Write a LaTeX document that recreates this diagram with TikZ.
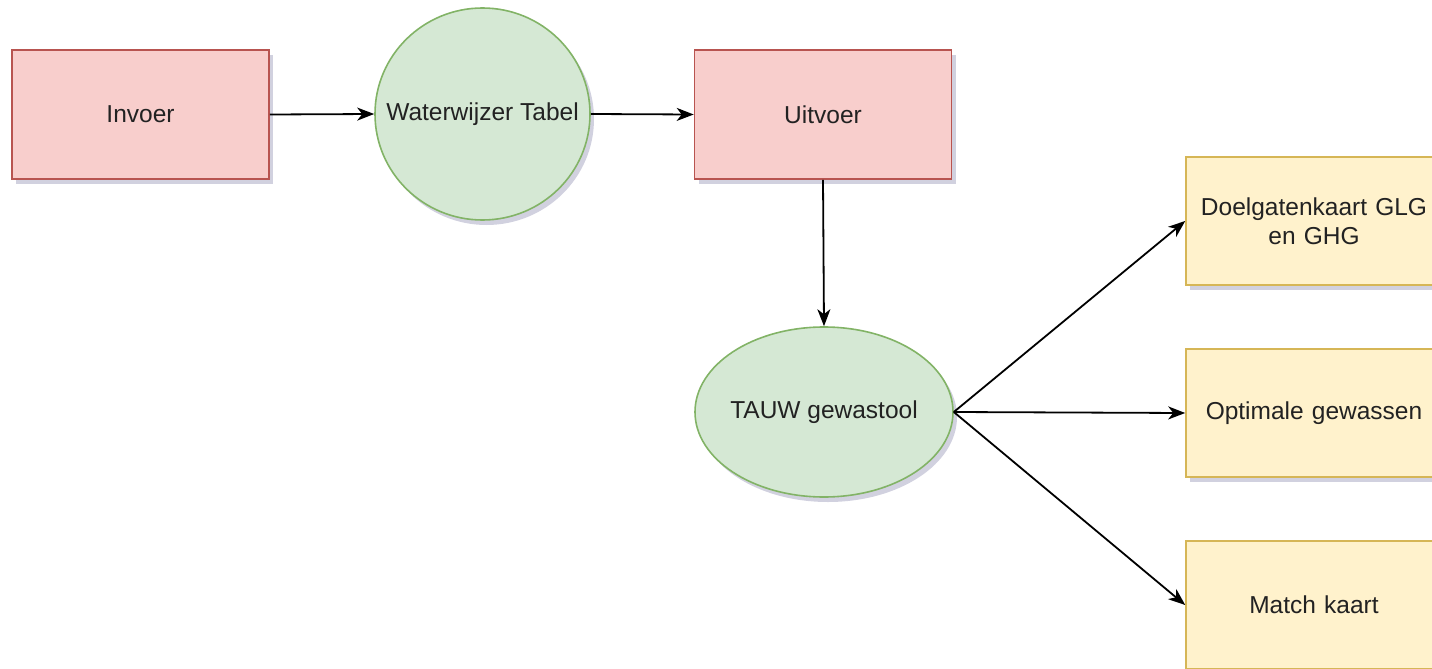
\documentclass[tikz,border=0pt]{standalone}
\usepackage{fontspec}
\setmainfont{Liberation Sans}
\usetikzlibrary{arrows.meta,shadows,shapes.geometric}
\definecolor{redfill}{HTML}{F8CECC}
\definecolor{redline}{HTML}{B85450}
\definecolor{greenfill}{HTML}{D5E8D4}
\definecolor{greenline}{HTML}{82B366}
\definecolor{yelfill}{HTML}{FFF2CC}
\definecolor{yelline}{HTML}{D6B656}
\definecolor{txt}{HTML}{222222}
\tikzset{
  lbl/.style={font=\fontsize{24.5}{29}\selectfont, text=txt},
  base/.style={lbl, line width=1.6pt,
    drop shadow={shadow xshift=4pt, shadow yshift=-5pt, opacity=0.18, fill=black!70!blue}},
  redbox/.style={base, draw=redline, fill=redfill, rectangle, minimum width=257pt, minimum height=129pt, inner sep=0pt},
  greenell/.style={base, draw=greenline, fill=greenfill, ellipse, inner sep=0pt},
  yelbox/.style={base, draw=yelline, fill=yelfill, rectangle, minimum width=256pt, minimum height=128pt, inner sep=0pt, align=center, text width=250pt},
  conn/.style={line width=1.8pt, draw=black, -{Stealth[length=17pt,width=13pt,inset=5pt]}}
}
\begin{document}
\begin{tikzpicture}[x=1pt,y=-1pt]
\useasboundingbox (0,0) rectangle (1432,669);
\clip (0,0) rectangle (1432,669);
\node[redbox] (invoer) at (140.5,114.5) {Invoer};
\node[greenell, minimum width=215pt, minimum height=212pt, label={[lbl]center:Waterwijzer Tabel}] (ww) at (482.5,114) {};
\node[redbox] (uitvoer) at (823,114.5) {Uitvoer};
\node[greenell, minimum width=258pt, minimum height=170pt, label={[lbl]center:TAUW gewastool}] (tauw) at (824,412) {};
\node[yelbox] (doel) at (1314,221) {Doelgatenkaart GLG\\en GHG};
\node[yelbox] (opt) at (1314,413) {Optimale gewassen};
\node[yelbox] (match) at (1314,605) {Match kaart};
\draw[conn] (invoer.east) -- (ww.west);
\draw[conn] (ww.east) -- (uitvoer.west);
\draw[conn] (uitvoer.south) -- (tauw.north);
\draw[conn] (tauw.east) -- (doel.west);
\draw[conn] (tauw.east) -- (opt.west);
\draw[conn] (tauw.east) -- (match.west);
\end{tikzpicture}
\end{document}
